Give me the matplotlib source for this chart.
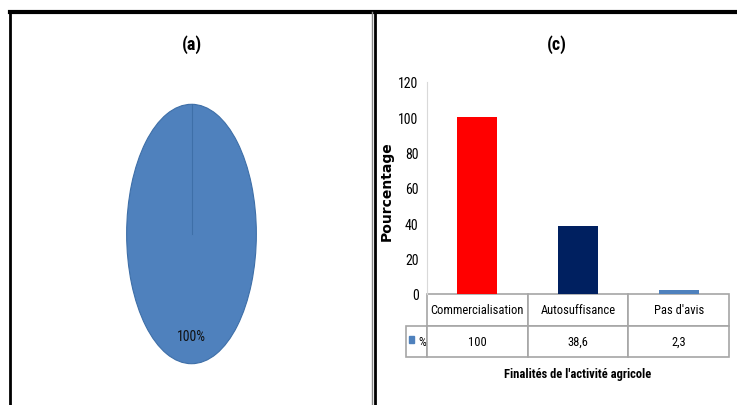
import matplotlib
matplotlib.use("Agg")
import matplotlib.pyplot as plt
from matplotlib import font_manager
from matplotlib.lines import Line2D
from matplotlib.patches import Rectangle

# pie (a): single answer
pie_share = [100]

# bars (c): purposes of the farming activity
categories = ["Commercialisation", "Autosuffisance", "Pas d'avis"]
percent = [100, 38.6, 2.3]
percent_text = ["100", "38,6", "2,3"]
bar_colors = ["#FF0000", "#002060", "#4F81BD"]

installed = {f.name for f in font_manager.fontManager.ttflist}
wanted = ["Liberation Sans Narrow", "DejaVu Sans Condensed", "Roboto Condensed",
          "Open Sans Condensed", "Noto Sans Condensed", "Arial Narrow", "Roboto"]
narrow_name = next((n for n in wanted if n in installed), "DejaVu Sans")
narrow = [narrow_name, "DejaVu Sans"]

fig = plt.figure(figsize=(7.37, 4.06), dpi=100)
W, H = 737, 406


def px(x, y):
    return x / W, 1 - y / H


# frame lines around the two panels
for xs, ys, lw, c in [
    ((10, 737), (13, 13), 3, "black"),
    ((10, 10), (13, 406), 2, "black"),
    ((372, 372), (13, 406), 1, "#888888"),
    ((374.5, 374.5), (13, 406), 2, "black"),
]:
    (x0, y0), (x1, y1) = px(xs[0], ys[0]), px(xs[1], ys[1])
    fig.add_artist(Line2D([x0, x1], [y0, y1], lw=lw, color=c, transform=fig.transFigure))

# ---- panel (a) ----
fig.text(*px(192, 45), "(a)", ha="center", va="center", fontsize=13,
         fontweight="bold", family=narrow)
axp = fig.add_axes([126 / W, 1 - 366 / H, 131 / W, 262 / H])
wedges, texts, autotexts = axp.pie(pie_share, startangle=90, counterclock=False,
                                   colors=["#4F81BD"], autopct="%1.0f%%",
                                   pctdistance=0.79, radius=1,
                                   wedgeprops=dict(edgecolor="#3E6FA8", linewidth=0.8))
for t in autotexts:
    t.set_family(narrow)
    t.set_fontsize(10)
    t.set_color("#111111")
axp.plot([0, 0], [0, 1], color="#3E6FA8", lw=0.8)
axp.set_aspect("auto")
axp.set_xlim(-1.01, 1.01)
axp.set_ylim(-1.01, 1.01)
axp.axis("off")

# ---- panel (c) ----
fig.text(*px(557, 45), "(c)", ha="center", va="center", fontsize=13,
         fontweight="bold", family=narrow)
ax = fig.add_axes([427 / W, 1 - 295 / H, 302 / W, 212 / H])
xpos = range(len(categories))
ax.bar(xpos, percent, width=0.4, color=bar_colors)
ax.set_xlim(-0.5, len(categories) - 0.5)
ax.set_ylim(0, 120)
ax.set_yticks(range(0, 121, 20))
ax.set_xticks([])
ax.tick_params(axis="y", length=0, pad=6, labelsize=10)
for lab in ax.get_yticklabels():
    lab.set_family(narrow)
for side in ["top", "right", "bottom"]:
    ax.spines[side].set_visible(False)
ax.spines["left"].set_color("#d9d9d9")

ax.set_ylabel("Pourcentage", fontsize=10, fontweight="bold", family="DejaVu Sans")
ax.yaxis.set_label_coords(-33 / 302, 0.49)

lead = 21 / 302
tbl = ax.table(cellText=[["%"] + percent_text], colLabels=[""] + categories,
               colWidths=[lead] + [1 / 3] * 3, cellLoc="center",
               bbox=[-lead, -63 / 212, 1 + lead, 63 / 212])
tbl.auto_set_font_size(False)
for (r, c), cell in tbl.get_celld().items():
    cell.set_edgecolor("#a6a6a6")
    cell.set_linewidth(1.2)
    cell.get_text().set_family(narrow)
    cell.get_text().set_fontsize(9)
    if r == 0 and c == 0:
        cell.visible_edges = ""
    if r == 1 and c == 0:
        cell.get_text().set_ha("right")
        cell.PAD = 0.05
ax.add_patch(Rectangle((-lead + 3 / 302, -49 / 212), 5 / 302, 7 / 212,
                       transform=ax.transAxes, color="#4F81BD", clip_on=False))

fig.text(*px(578, 375), "Finalités de l'activité agricole", ha="center", va="center",
         fontsize=9, fontweight="bold", family=narrow)

fig.savefig("out.png", dpi=100)
